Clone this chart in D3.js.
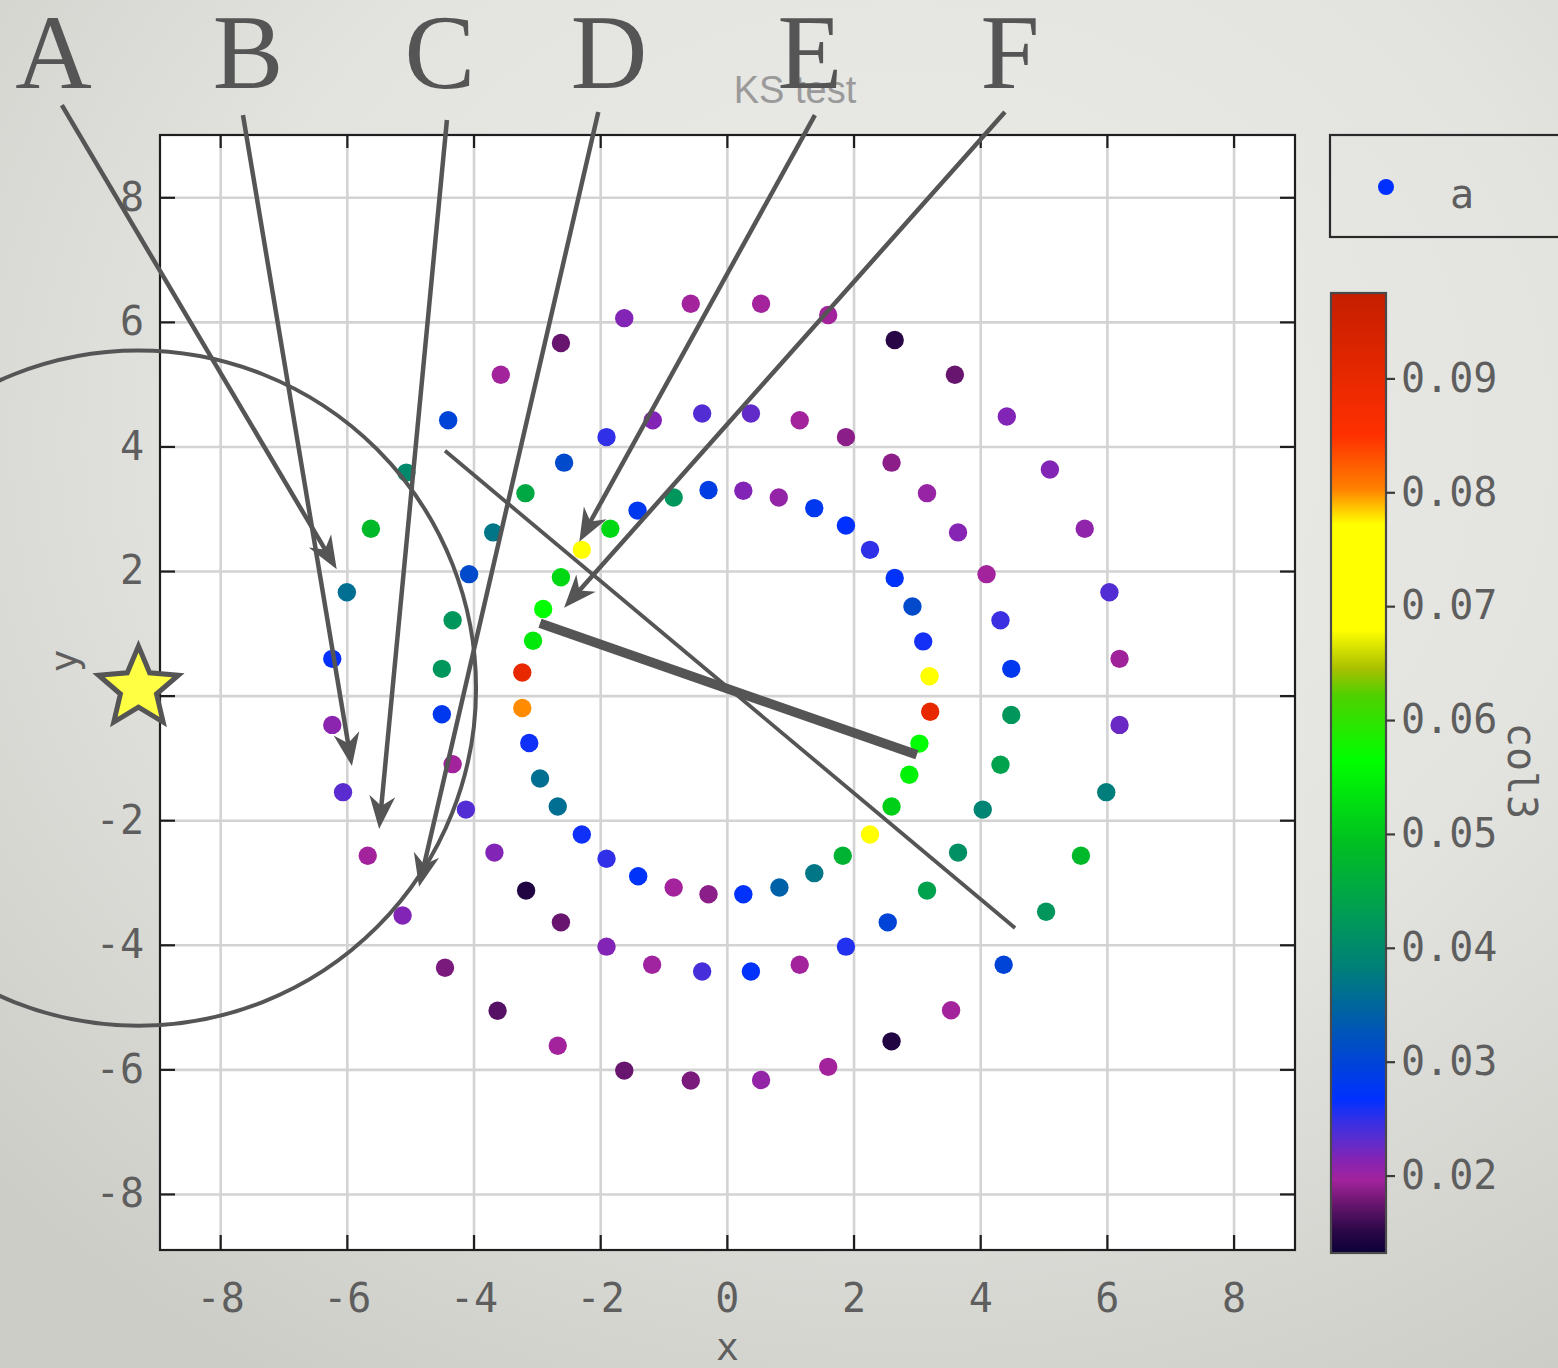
<!DOCTYPE html>
<html>
<head>
<meta charset="utf-8">
<script src="https://cdn.jsdelivr.net/npm/d3@7"></script>
<style>
  html, body { margin: 0; padding: 0; background: #e2e2de; }
  svg { display: block; }
</style>
</head>
<body>
<svg id="chart" width="1558" height="1368"></svg>
<script>
// ---- data: three rings of samples, each with x, y and col3 ----
const outerX = [-0.57, 0.54, 1.60, 2.65, 3.60, 4.42, 5.10, 5.65, 6.04, 6.20, 6.20, 5.99, 5.59, 5.04, 4.37, 3.54, 2.60, 1.60,
                0.54, -0.57, -1.62, -2.67, -3.62, -4.45, -5.12, -5.67, -6.06, -6.23, -6.23, -6.00, -5.62, -5.06, -4.40, -3.57, -2.62, -1.62];
const outerY = [6.29, 6.29, 6.11, 5.71, 5.15, 4.48, 3.63, 2.68, 1.66, 0.59, -0.47, -1.55, -2.57, -3.47, -4.32, -5.05, -5.55, -5.96,
                -6.17, -6.18, -6.02, -5.62, -5.06, -4.37, -3.53, -2.57, -1.55, -0.47, 0.59, 1.66, 2.68, 3.58, 4.42, 5.15, 5.66, 6.06];
const outerC = [0.0196, 0.0196, 0.0196, 0.0150, 0.0175, 0.0215, 0.0215, 0.0207, 0.0235, 0.0195, 0.0225, 0.038, 0.048, 0.042, 0.030, 0.0196, 0.0145, 0.0196,
                0.0205, 0.0182, 0.0175, 0.0196, 0.0168, 0.0182, 0.0215, 0.0196, 0.0232, 0.021, 0.0265, 0.036, 0.048, 0.040, 0.030, 0.0196, 0.0175, 0.0215];

const middleX = [-0.39, 0.38, 1.15, 1.88, 2.60, 3.16, 3.65, 4.10, 4.32, 4.49, 4.49, 4.32, 4.04, 3.65, 3.16, 2.54, 1.88, 1.15,
                 0.38, -0.39, -1.18, -1.90, -2.62, -3.17, -3.67, -4.12, -4.33, -4.50, -4.50, -4.33, -4.07, -3.69, -3.18, -2.57, -1.90, -1.17];
const middleY = [4.53, 4.53, 4.42, 4.15, 3.74, 3.25, 2.62, 1.95, 1.21, 0.43, -0.31, -1.11, -1.83, -2.52, -3.13, -3.64, -4.03, -4.32,
                 -4.43, -4.43, -4.32, -4.03, -3.64, -3.13, -2.52, -1.83, -1.10, -0.30, 0.43, 1.21, 1.95, 2.62, 3.25, 3.74, 4.15, 4.42];
const middleC = [0.0235, 0.0228, 0.0196, 0.0188, 0.0188, 0.0203, 0.0213, 0.0196, 0.0245, 0.028, 0.042, 0.044, 0.039, 0.041, 0.044, 0.030, 0.0255, 0.0196,
                 0.027, 0.024, 0.0198, 0.0215, 0.0175, 0.0145, 0.0215, 0.0235, 0.0196, 0.028, 0.042, 0.042, 0.031, 0.037, 0.045, 0.031, 0.025, 0.0215];

const innerX = [-0.29, 0.26, 0.82, 1.38, 1.88, 2.26, 2.65, 2.93, 3.10, 3.20, 3.21, 3.04, 2.88, 2.60, 2.26, 1.83, 1.38, 0.83,
                0.26, -0.29, -0.84, -1.40, -1.90, -2.29, -2.67, -2.95, -3.12, -3.23, -3.23, -3.06, -2.90, -2.62, -2.29, -1.84, -1.41, -0.84];
const innerY = [3.30, 3.29, 3.18, 3.01, 2.73, 2.34, 1.89, 1.43, 0.87, 0.31, -0.26, -0.77, -1.27, -1.78, -2.23, -2.57, -2.85, -3.08,
                -3.19, -3.19, -3.08, -2.90, -2.62, -2.23, -1.78, -1.33, -0.76, -0.20, 0.37, 0.88, 1.39, 1.90, 2.34, 2.68, 2.97, 3.18];
const innerC = [0.029, 0.0215, 0.0205, 0.028, 0.0267, 0.025, 0.027, 0.031, 0.026, 0.072, 0.09, 0.0565, 0.055, 0.051, 0.072, 0.047, 0.037, 0.034,
                0.027, 0.0188, 0.0196, 0.0272, 0.025, 0.0262, 0.036, 0.036, 0.0262, 0.080, 0.09, 0.054, 0.0565, 0.052, 0.072, 0.052, 0.028, 0.042];

// ---- axes, colour bar and legend ----
const xTicks = [-8, -6, -4, -2, 0, 2, 4, 6, 8];
const yTicks = [-8, -6, -4, -2, 0, 2, 4, 6, 8];
const colTicks = [0.02, 0.03, 0.04, 0.05, 0.06, 0.07, 0.08, 0.09];
const colStopValues = [0.0132, 0.0152, 0.0176, 0.0196, 0.0214, 0.0232, 0.0250, 0.0267, 0.0319, 0.0354, 0.0383, 0.0436,
                       0.0493, 0.0565, 0.0622, 0.0645, 0.0679, 0.0772, 0.0803, 0.0850, 0.0900, 0.0975];
const colStopColors = ["#0c0038", "#2c0848", "#6a1670", "#a3239c", "#8424b4", "#5a2cd0", "#3030e8", "#0030ff", "#0050c0", "#006a98", "#008078", "#00a050",
                       "#00c020", "#00ff00", "#50d000", "#a8c000", "#ffff00", "#ffff00", "#ff8000", "#ff3000", "#e82800", "#c41e00"];
const legendLabels = ["a"];
const titleText = "KS test";
const xLabel = "x", yLabel = "y", colLabel = "col3";

// ---- annotation overlay (in data units) ----
const arrowLetters = ["A", "B", "C", "D", "E", "F"];
const arrowFrom = [[-10.50, 9.48], [-7.64, 9.32], [-4.42, 9.24], [-2.03, 9.37], [1.39, 9.32], [4.39, 9.37]];
const arrowTo   = [[-6.16, 2.03], [-5.92, -1.13], [-5.49, -2.14], [-4.86, -3.07], [-2.33, 2.47], [-2.57, 1.41]];
const letterX   = [-10.63, -7.56, -4.53, -1.86, 1.31, 4.47];
const thinLine  = [[-4.45, 3.93], [4.55, -3.73]];
const thickLine = [[-2.95, 1.16], [3.00, -0.95]];
const ringCentre = [-9.29, 0.12], ringRadius = 5.33;

const svg = d3.select("#chart");
const W = 1558, H = 1368;
const plot = { left: 160, right: 1295, top: 135, bottom: 1250 };
const tickFont = "'DejaVu Sans Mono', 'Liberation Mono', monospace";
const ink = "#5e5e5e";

const x = d3.scaleLinear().domain([-8.95, 8.97]).range([plot.left, plot.right]);
const y = d3.scaleLinear().domain([-8.9, 9.0]).range([plot.bottom, plot.top]);
const colour = d3.scaleLinear().domain(colStopValues).range(colStopColors).interpolate(d3.interpolateRgb);

const defs = svg.append("defs");

// page background with a soft vignette
const bg = defs.append("radialGradient").attr("id", "pageBg")
  .attr("cx", "58%").attr("cy", "32%").attr("r", "80%");
bg.append("stop").attr("offset", 0).attr("stop-color", "#ececea");
bg.append("stop").attr("offset", 0.55).attr("stop-color", "#e3e3df");
bg.append("stop").attr("offset", 1).attr("stop-color", "#cdcdc8");
svg.append("rect").attr("width", W).attr("height", H).attr("fill", "url(#pageBg)");

// plot area
svg.append("rect")
  .attr("x", plot.left).attr("y", plot.top)
  .attr("width", plot.right - plot.left).attr("height", plot.bottom - plot.top)
  .attr("fill", "#ffffff");

// grid
const grid = svg.append("g").attr("class", "grid");
grid.append("g").attr("transform", `translate(0,${plot.bottom})`)
  .call(d3.axisBottom(x).tickValues(xTicks).tickSize(-(plot.bottom - plot.top)).tickFormat(""));
grid.append("g").attr("transform", `translate(${plot.left},0)`)
  .call(d3.axisLeft(y).tickValues(yTicks).tickSize(-(plot.right - plot.left)).tickFormat(""));
grid.selectAll(".domain").remove();
grid.selectAll("line").attr("stroke", "#d3d3d3").attr("stroke-width", 2.6);

// points
const points = [];
[[outerX, outerY, outerC], [middleX, middleY, middleC], [innerX, innerY, innerC]].forEach(([xs, ys, cs]) => {
  xs.forEach((v, i) => points.push({ x: v, y: ys[i], c: cs[i] }));
});
svg.append("g").attr("class", "points")
  .selectAll("circle").data(points).join("circle")
  .attr("cx", d => x(d.x)).attr("cy", d => y(d.y)).attr("r", 9.2)
  .attr("fill", d => colour(d.c));

// axes: inward ticks on all four sides, labels on bottom and left
function styleAxis(g) {
  g.select(".domain").remove();
  g.selectAll("line").attr("stroke", "#1e1e1e").attr("stroke-width", 2.2);
  g.selectAll("text").attr("font-family", tickFont).attr("font-size", 40).attr("fill", ink);
}
svg.append("g").attr("transform", `translate(0,${plot.bottom})`)
  .call(d3.axisBottom(x).tickValues(xTicks).tickSize(-15).tickPadding(34).tickFormat(d => String(d)))
  .call(styleAxis);
svg.append("g").attr("transform", `translate(0,${plot.top})`)
  .call(d3.axisTop(x).tickValues(xTicks).tickSize(-13).tickFormat(""))
  .call(styleAxis);
svg.append("g").attr("transform", `translate(${plot.left},0)`)
  .call(d3.axisLeft(y).tickValues(yTicks).tickSize(-15).tickPadding(16).tickFormat(d => String(d)))
  .call(styleAxis);
svg.append("g").attr("transform", `translate(${plot.right},0)`)
  .call(d3.axisRight(y).tickValues(yTicks).tickSize(-15).tickFormat(""))
  .call(styleAxis);

svg.append("rect")
  .attr("x", plot.left).attr("y", plot.top)
  .attr("width", plot.right - plot.left).attr("height", plot.bottom - plot.top)
  .attr("fill", "none").attr("stroke", "#1e1e1e").attr("stroke-width", 2.2);

// title and axis labels
svg.append("text").attr("x", 795).attr("y", 103).attr("text-anchor", "middle")
  .attr("font-family", "'Liberation Sans', sans-serif").attr("font-size", 38)
  .attr("fill", "#9a9a9a").text(titleText);
svg.append("text").attr("x", (plot.left + plot.right) / 2).attr("y", 1360).attr("text-anchor", "middle")
  .attr("font-family", tickFont).attr("font-size", 38).attr("fill", ink).text(xLabel);
svg.append("text").attr("transform", "translate(77,661) rotate(-90)").attr("text-anchor", "middle")
  .attr("font-family", tickFont).attr("font-size", 38).attr("fill", ink).text(yLabel);

// legend
const legend = svg.append("g");
legend.append("rect").attr("x", 1330).attr("y", 135).attr("width", 240).attr("height", 102)
  .attr("fill", "none").attr("stroke", "#2a2a2a").attr("stroke-width", 2.2);
legend.append("circle").attr("cx", 1386).attr("cy", 187).attr("r", 8).attr("fill", colour(0.0267));
legend.append("text").attr("x", 1462).attr("y", 208).attr("text-anchor", "middle")
  .attr("font-family", tickFont).attr("font-size", 40).attr("fill", ink).text(legendLabels[0]);

// colour bar
const cb = { left: 1331, width: 55, top: 293, bottom: 1253 };
const cScale = d3.scaleLinear().domain([0.0132, 0.0975]).range([cb.bottom, cb.top]);
const grad = defs.append("linearGradient").attr("id", "colBar")
  .attr("x1", 0).attr("y1", 1).attr("x2", 0).attr("y2", 0);
const cDom = cScale.domain();
colStopValues.forEach((v, i) => {
  grad.append("stop").attr("offset", (v - cDom[0]) / (cDom[1] - cDom[0])).attr("stop-color", colStopColors[i]);
});
svg.append("rect").attr("x", cb.left).attr("y", cb.top).attr("width", cb.width).attr("height", cb.bottom - cb.top)
  .attr("fill", "url(#colBar)").attr("stroke", "#4a4a4a").attr("stroke-width", 2.2);
svg.append("g").attr("transform", `translate(${cb.left + cb.width},0)`)
  .call(d3.axisRight(cScale).tickValues(colTicks).tickSize(9).tickPadding(6).tickFormat(d3.format(".2f")))
  .call(styleAxis)
  .call(g => g.selectAll("line").attr("stroke", "#3a3a3a"));
svg.append("text").attr("transform", "translate(1508,771) rotate(90)").attr("text-anchor", "middle")
  .attr("font-family", tickFont).attr("font-size", 40).attr("fill", ink).text(colLabel);

// ---- annotation overlay ----
const annColour = "#555555";
defs.append("marker").attr("id", "head")
  .attr("viewBox", "-36 -15 38 30").attr("refX", 0).attr("refY", 0)
  .attr("markerWidth", 38).attr("markerHeight", 30)
  .attr("markerUnits", "userSpaceOnUse").attr("orient", "auto")
  .append("path").attr("d", "M0,0 L-33,-13 L-23,0 L-33,13 Z").attr("fill", annColour);

const ann = svg.append("g").attr("class", "annotation");
const px = d => [x(d[0]), y(d[1])];

// circle around the left edge
const ringR = x(ringCentre[0] + ringRadius) - x(ringCentre[0]);
ann.append("circle").attr("cx", x(ringCentre[0])).attr("cy", y(ringCentre[1])).attr("r", ringR)
  .attr("fill", "none").attr("stroke", annColour).attr("stroke-width", 4);

// straight lines across the rings
ann.append("line")
  .attr("x1", px(thinLine[0])[0]).attr("y1", px(thinLine[0])[1])
  .attr("x2", px(thinLine[1])[0]).attr("y2", px(thinLine[1])[1])
  .attr("stroke", annColour).attr("stroke-width", 3.8);
ann.append("line")
  .attr("x1", px(thickLine[0])[0]).attr("y1", px(thickLine[0])[1])
  .attr("x2", px(thickLine[1])[0]).attr("y2", px(thickLine[1])[1])
  .attr("stroke", annColour).attr("stroke-width", 9.5);

// labelled arrows: the shaft stops inside the head so the tip stays sharp
arrowLetters.forEach((L, i) => {
  const a = px(arrowFrom[i]), b = px(arrowTo[i]);
  const len = Math.hypot(b[0] - a[0], b[1] - a[1]);
  const k = (len - 20) / len;
  ann.append("line").attr("x1", a[0]).attr("y1", a[1])
    .attr("x2", a[0] + (b[0] - a[0]) * k).attr("y2", a[1] + (b[1] - a[1]) * k)
    .attr("stroke", annColour).attr("stroke-width", 4.5);
  ann.append("line").attr("x1", a[0] + (b[0] - a[0]) * k).attr("y1", a[1] + (b[1] - a[1]) * k)
    .attr("x2", b[0]).attr("y2", b[1])
    .attr("stroke", "none").attr("marker-end", "url(#head)");
  ann.append("text").attr("x", x(letterX[i])).attr("y", 88).attr("text-anchor", "middle")
    .attr("font-family", "'Liberation Serif', 'DejaVu Serif', serif").attr("font-size", 106)
    .attr("fill", annColour).text(L);
});

// star marker (five points, fairly broad arms)
const starOuter = 42, starInner = 19;
const starPts = d3.range(10).map(i => {
  const r = i % 2 === 0 ? starOuter : starInner;
  const ang = -Math.PI / 2 + i * Math.PI / 5;
  return [r * Math.cos(ang), r * Math.sin(ang)];
});
ann.append("path")
  .attr("transform", `translate(${x(ringCentre[0])},${y(ringCentre[1])})`)
  .attr("d", d3.line()(starPts) + "Z")
  .attr("fill", "#ffff44").attr("stroke", annColour).attr("stroke-width", 5)
  .attr("stroke-linejoin", "miter");
</script>
</body>
</html>
